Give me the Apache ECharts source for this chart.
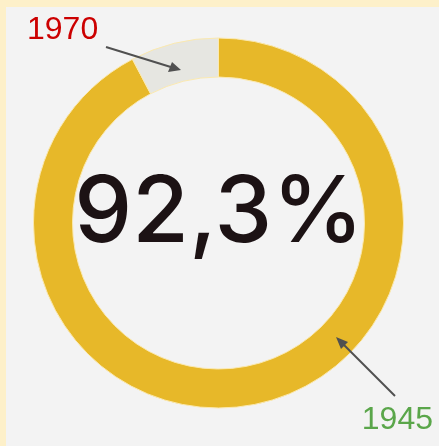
<!DOCTYPE html>
<html>
<head>
<meta charset="utf-8">
<script src="https://cdn.jsdelivr.net/npm/echarts@6/dist/echarts.min.js"></script>
<style>html,body{margin:0;padding:0;background:#fdf0c9;}#c{width:439px;height:446px;}</style>
</head>
<body>
<div id="c"></div>
<script>
var categories = ['1945', '1970'];
var values = [92.3, 7.7];
var centerText = '92,3%';
var colors = ['#e7b829', '#e6e6e1'];

var chart = echarts.init(document.getElementById('c'), null, {renderer: 'canvas'});
chart.setOption({
  backgroundColor: '#fdf0c9',
  animation: false,
  graphic: [
    {type: 'rect', z: -10, shape: {x: 6, y: 7, width: 433, height: 439}, style: {fill: '#f3f3f3'}},
    {type: 'text', z: 10, style: {text: centerText, x: 219, y: 214, align: 'center', verticalAlign: 'middle',
      font: '500 92px Inter, "Liberation Sans", Arial, sans-serif', fill: '#1c1214'}},
    {type: 'text', z: 10, style: {text: categories[1], x: 27, y: 30, align: 'left', verticalAlign: 'middle',
      font: '32px "Liberation Sans", Arial, sans-serif', fill: '#cc0000'}},
    {type: 'text', z: 10, style: {text: categories[0], x: 433, y: 420, align: 'right', verticalAlign: 'middle',
      font: '32px "Liberation Sans", Arial, sans-serif', fill: '#5aa64a'}},
    {type: 'line', z: 10, shape: {x1: 106, y1: 47, x2: 174, y2: 68}, style: {stroke: '#505050', lineWidth: 2}},
    {type: 'polygon', z: 10, shape: {points: [[181, 70], [168, 72], [172, 62]]}, style: {fill: '#505050'}},
    {type: 'line', z: 10, shape: {x1: 395, y1: 396, x2: 342, y2: 343}, style: {stroke: '#505050', lineWidth: 2}},
    {type: 'polygon', z: 10, shape: {points: [[336, 337], [348, 342], [341, 349]]}, style: {fill: '#505050'}}
  ],
  series: [{
    type: 'pie',
    center: [218.5, 223],
    radius: [146, 185],
    startAngle: 90,
    clockwise: true,
    silent: true,
    label: {show: false},
    labelLine: {show: false},
    itemStyle: {borderColor: '#fbe9b0', borderWidth: 1},
    data: categories.map(function (c, i) { return {name: c, value: values[i], itemStyle: {color: colors[i]}}; })
  }]
});
</script>
</body>
</html>
